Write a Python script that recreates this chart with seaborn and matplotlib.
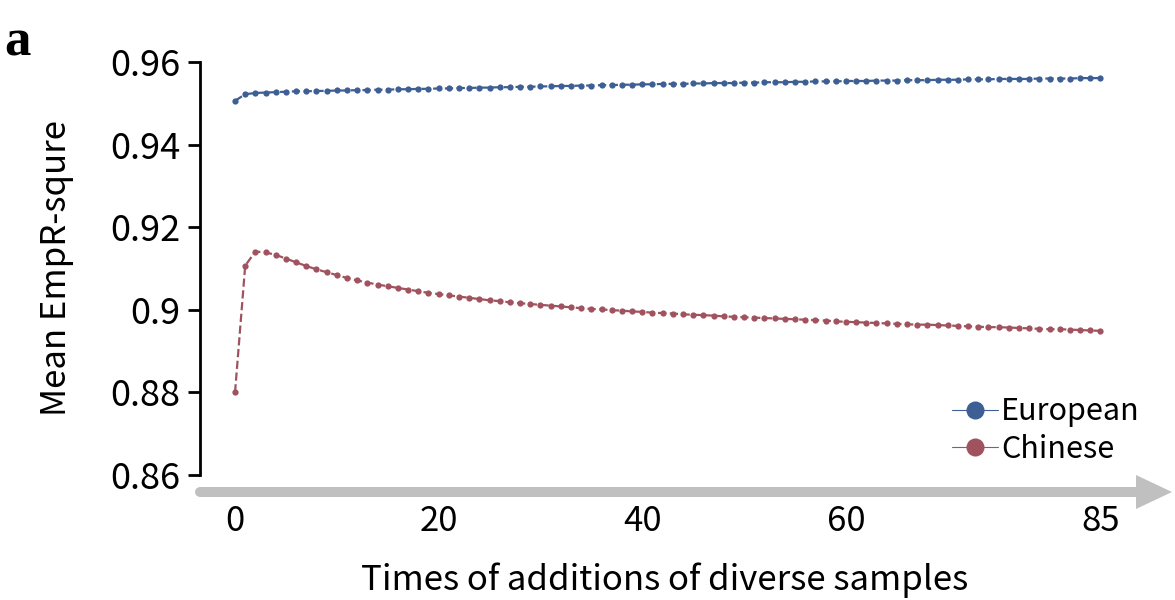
import numpy as np
import pandas as pd
import seaborn as sns
import matplotlib
matplotlib.use("Agg")
import matplotlib.pyplot as plt
from matplotlib.lines import Line2D
from matplotlib.patches import Polygon

# ---------------- data ----------------
additions = list(range(0, 86))

european = [
    0.9506, 0.9522, 0.9525, 0.9526, 0.9527, 0.9528, 0.9529, 0.9529, 0.9530, 0.9530,
    0.9531, 0.9531, 0.9532, 0.9532, 0.9533, 0.9533, 0.9534, 0.9534, 0.9535, 0.9535,
    0.9536, 0.9536, 0.9537, 0.9537, 0.9538, 0.9538, 0.9539, 0.9539, 0.9540, 0.9540,
    0.9541, 0.9541, 0.9542, 0.9542, 0.9543, 0.9543, 0.9544, 0.9544, 0.9545, 0.9545,
    0.9546, 0.9546, 0.9547, 0.9547, 0.9547, 0.9548, 0.9548, 0.9549, 0.9549, 0.9549,
    0.9550, 0.9550, 0.9551, 0.9551, 0.9551, 0.9552, 0.9552, 0.9553, 0.9553, 0.9553,
    0.9554, 0.9554, 0.9554, 0.9555, 0.9555, 0.9555, 0.9556, 0.9556, 0.9556, 0.9557,
    0.9557, 0.9557, 0.9558, 0.9558, 0.9558, 0.9559, 0.9559, 0.9559, 0.9559, 0.9560,
    0.9560, 0.9560, 0.9560, 0.9561, 0.9561, 0.9561,
]

chinese = [
    0.8800, 0.9107, 0.9141, 0.9139, 0.9133, 0.9124, 0.9115, 0.9106, 0.9098, 0.9091,
    0.9084, 0.9077, 0.9071, 0.9066, 0.9061, 0.9057, 0.9053, 0.9049, 0.9045, 0.9041,
    0.9038, 0.9035, 0.9032, 0.9029, 0.9026, 0.9023, 0.9021, 0.9018, 0.9016, 0.9014,
    0.9012, 0.9010, 0.9008, 0.9006, 0.9004, 0.9002, 0.9001, 0.8999, 0.8998, 0.8996,
    0.8995, 0.8993, 0.8992, 0.8991, 0.8989, 0.8988, 0.8987, 0.8986, 0.8984, 0.8983,
    0.8982, 0.8981, 0.8980, 0.8979, 0.8978, 0.8977, 0.8976, 0.8975, 0.8974, 0.8972,
    0.8971, 0.8970, 0.8969, 0.8968, 0.8967, 0.8966, 0.8965, 0.8964, 0.8964, 0.8963,
    0.8962, 0.8961, 0.8960, 0.8959, 0.8958, 0.8958, 0.8957, 0.8956, 0.8955, 0.8954,
    0.8953, 0.8953, 0.8952, 0.8951, 0.8950, 0.8949,
]

series_names = ["European", "Chinese"]
series_colors = ["#3d5f94", "#a0535f"]

x_ticks = [0, 20, 40, 60, 85]
y_ticks = [0.86, 0.88, 0.90, 0.92, 0.94, 0.96]
y_tick_labels = ["0.86", "0.88", "0.9", "0.92", "0.94", "0.96"]

# ---------------- style ----------------
sns.set_theme(style="white")
plt.rcParams["font.family"] = ["Noto Sans CJK SC", "DejaVu Sans"]
plt.rcParams["text.color"] = "black"
plt.rcParams["axes.labelcolor"] = "black"
plt.rcParams["xtick.color"] = "black"
plt.rcParams["ytick.color"] = "black"

fig = plt.figure(figsize=(11.75, 6.0), dpi=100)
ax = fig.add_axes([200 / 1175, 1 - 475 / 600, 930 / 1175, (475 - 62) / 600])

df = pd.DataFrame({
    "x": additions * 2,
    "y": european + chinese,
    "group": ["European"] * len(european) + ["Chinese"] * len(chinese),
})

for name, color in zip(series_names, series_colors):
    sub = df[df["group"] == name]
    sns.lineplot(data=sub, x="x", y="y", ax=ax, color=color, linestyle="--",
                 linewidth=1.6, marker="o", markersize=4.5, markeredgewidth=0,
                 dashes=(4, 2.5), legend=False)

ax.set_xlim(-3.44, 87.9)
ax.set_ylim(0.86, 0.96)
ax.set_yticks(y_ticks)
ax.set_yticklabels(y_tick_labels)
ax.set_xticks(x_ticks)
ax.set_xticklabels([str(t) for t in x_ticks])

for s in ["top", "right", "bottom"]:
    ax.spines[s].set_visible(False)
ax.spines["left"].set_linewidth(2)
ax.spines["left"].set_color("black")
ax.tick_params(axis="y", direction="out", length=9, width=2, color="black",
               labelcolor="black", labelsize=26, pad=5, left=True)
ax.tick_params(axis="x", length=0, labelsize=25, pad=21, labelcolor="black")

ax.set_xlabel("Times of additions of diverse samples", fontsize=25, labelpad=17,
              color="black")
ax.set_ylabel("Mean EmpR-squre", fontsize=25, labelpad=26, color="black")

# Legend
handles = [Line2D([0], [0], color=c, lw=0.8, marker="o", markersize=13,
                  markeredgewidth=0) for c in series_colors]
leg = ax.legend(handles, series_names, loc="lower right", bbox_to_anchor=(1.03, -0.02),
                frameon=False, fontsize=22, handlelength=1.5, handletextpad=0.1,
                labelspacing=0.22, borderaxespad=0.2)
for t in leg.get_texts():
    t.set_color("black")

# Grey arrow as x axis
arrow_y = (600 - 492) / 100
x0, x1 = 2.00, 11.72
half_shaft = 0.05
head_len = 0.36
half_head = 0.17
line = Line2D([x0, x1 - head_len + 0.02], [arrow_y, arrow_y], transform=fig.dpi_scale_trans,
              color="#c0c0c0", linewidth=half_shaft * 2 * 72, solid_capstyle="round")
fig.add_artist(line)
tri = Polygon([[x1 - head_len, arrow_y + half_head], [x1, arrow_y],
               [x1 - head_len, arrow_y - half_head]], closed=True,
              transform=fig.dpi_scale_trans, color="#c0c0c0", lw=0)
fig.add_artist(tri)

# Panel letter
fig.text(4 / 1175, 1 - 55 / 600, "a", fontsize=38, fontweight="bold",
         family="Liberation Serif", ha="left", va="baseline", color="black")

fig.savefig("out.png", dpi=100)
